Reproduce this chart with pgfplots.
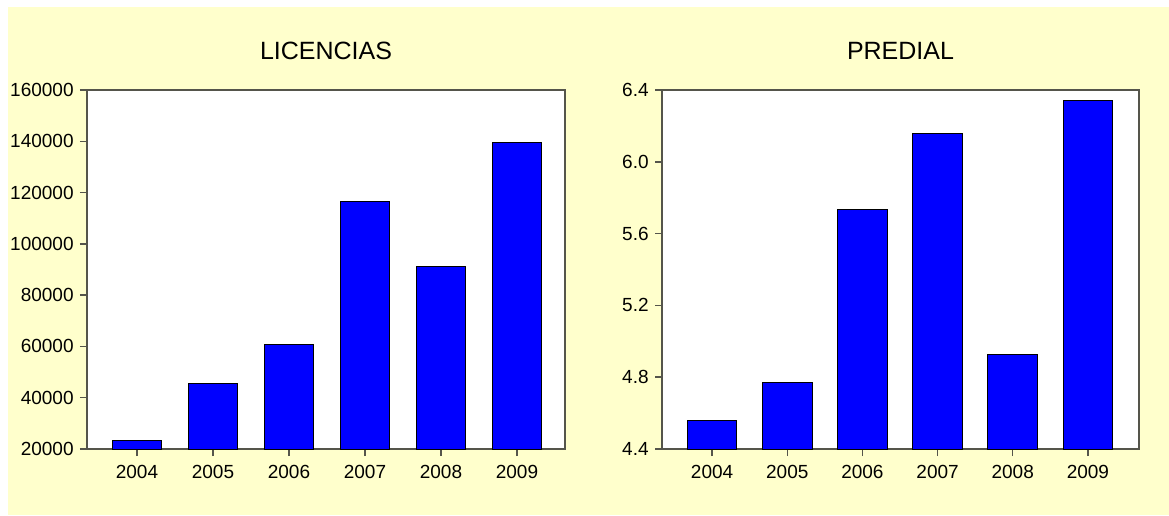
\documentclass[border=0pt]{standalone}
\usepackage{pgfplots}
\pgfplotsset{compat=1.18}
\usepackage{fontspec}
\setmainfont{Liberation Sans}
\definecolor{bgyellow}{RGB}{255,255,204}
\definecolor{barblue}{RGB}{0,0,255}
\definecolor{axgray}{RGB}{85,85,75}
\begin{document}
\begin{tikzpicture}
\useasboundingbox (0,0) rectangle (584.5pt,257.5pt);
\fill[bgyellow] (4pt,0) rectangle (584.5pt,254pt);
\pgfplotsset{
  mystyle/.style={
    scale only axis,
    height=179.5pt,
    anchor=south west,
    axis background/.style={fill=white},
    axis line style={axgray, line width=0.75pt},
    every tick/.style={axgray, line width=0.75pt},
    tick align=outside,
    tick pos=left,
    major tick length=3.5pt,
    xtick={0,1,2,3,4,5},
    xticklabels={2004,2005,2006,2007,2008,2009},
    ticklabel style={font=\fontsize{9.5}{11}\selectfont},
    xticklabel style={inner sep=0pt, anchor=north, yshift=-4.5pt},
    yticklabel style={inner sep=0pt, anchor=east, xshift=-3pt},
    /pgf/number format/assume math mode=true,
    title style={font=\fontsize{12.5}{15}\selectfont, at={(0.5,1)}, anchor=base, yshift=9.5pt},
    ybar, bar width=24.75pt,
    scaled y ticks=false,
  }
}
\begin{axis}[mystyle, at={(43.5pt,33pt)}, width=239pt,
  title={LICENCIAS},
  xmin=-0.658, xmax=5.632, ymin=20000, ymax=160000,
  ytick={20000,40000,60000,80000,100000,120000,140000,160000},
  yticklabel style={/pgf/number format/.cd, fixed, precision=0, 1000 sep={}},
]
\addplot[fill=barblue, draw=black, line width=0.5pt] coordinates {
  (0,23500) (1,45600) (2,60600) (3,116700) (4,91000) (5,139400)
};
\end{axis}
\begin{axis}[mystyle, at={(331pt,33pt)}, width=238.5pt,
  title={PREDIAL},
  xmin=-0.667, xmax=5.68, ymin=4.4, ymax=6.4,
  ytick={4.4,4.8,5.2,5.6,6.0,6.4},
  yticklabel style={/pgf/number format/.cd, fixed, fixed zerofill, precision=1},
]
\addplot[fill=barblue, draw=black, line width=0.5pt] coordinates {
  (0,4.556) (1,4.77) (2,5.737) (3,6.155) (4,4.924) (5,6.344)
};
\end{axis}
\end{tikzpicture}
\end{document}
